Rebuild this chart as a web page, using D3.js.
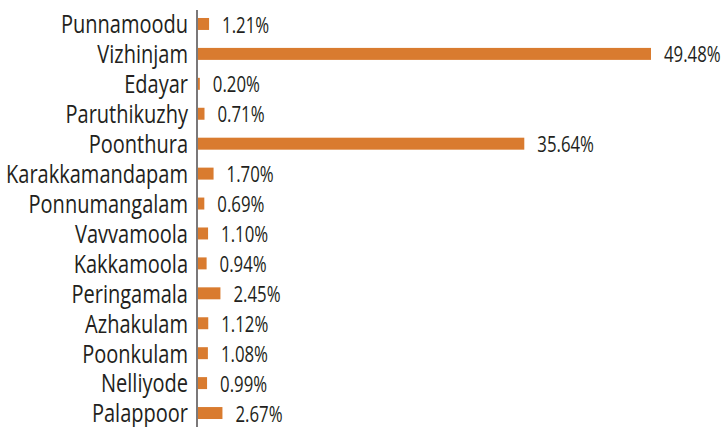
<!DOCTYPE html>
<html>
<head>
<meta charset="utf-8">
<script src="https://cdn.jsdelivr.net/npm/d3@7"></script>
<style>
  body { margin: 0; background: #fff; }
  text { font-family: "Open Sans", "Noto Sans", sans-serif; fill: #231f20; }
</style>
</head>
<body>
<div id="chart"></div>
<script>
const places = ['Punnamoodu', 'Vizhinjam', 'Edayar', 'Paruthikuzhy', 'Poonthura', 'Karakkamandapam',
    'Ponnumangalam', 'Vavvamoola', 'Kakkamoola', 'Peringamala', 'Azhakulam', 'Poonkulam', 'Nelliyode', 'Palappoor'];
const shares = [1.21, 49.48, 0.20, 0.71, 35.64, 1.70, 0.69, 1.10, 0.94, 2.45, 1.12, 1.08, 0.99, 2.67];

const width = 728, height = 427;
const axisX = 197;
const squeeze = 0.77; // fake a condensed face

var svg = d3.select('#chart')
    .append('svg')
    .attr('width', width)
    .attr('height', height);

var x = d3.scaleLinear().domain([0, 49.48]).range([axisX + 1, 651]);
var y = d3.scaleBand().domain(places).range([9, 428]).paddingInner(0.6).paddingOuter(0.3);

var rows = svg.selectAll('g.row')
    .data(places.map(function (p, i) { return {name: p, v: shares[i]}; }))
    .enter().append('g')
    .classed('row', true)
    .attr('transform', function (d) { return 'translate(0,' + y(d.name) + ')'; });

rows.append('rect')
    .attr('x', x(0))
    .attr('y', 0)
    .attr('width', function (d) { return x(d.v) - x(0); })
    .attr('height', y.bandwidth())
    .attr('fill', '#d97b2f');

rows.append('g')
    .attr('transform', 'translate(' + (axisX - 9) + ',' + (y.bandwidth() / 2) + ') scale(' + squeeze + ',1)')
    .append('text')
    .attr('dy', '0.36em')
    .attr('text-anchor', 'end')
    .attr('font-size', 26)
    .text(function (d) { return d.name; });

rows.append('g')
    .attr('transform', function (d) {
        return 'translate(' + (x(d.v) + 13) + ',' + (y.bandwidth() / 2 + 1) + ') scale(0.8,1)';
    })
    .append('text')
    .attr('dy', '0.36em')
    .attr('font-size', 21)
    .text(function (d) { return d.v.toFixed(2) + '%'; });

svg.append('line')
    .attr('x1', axisX).attr('x2', axisX)
    .attr('y1', 10).attr('y2', height)
    .attr('stroke', '#231f20')
    .attr('stroke-width', 1.2);
</script>
</body>
</html>
